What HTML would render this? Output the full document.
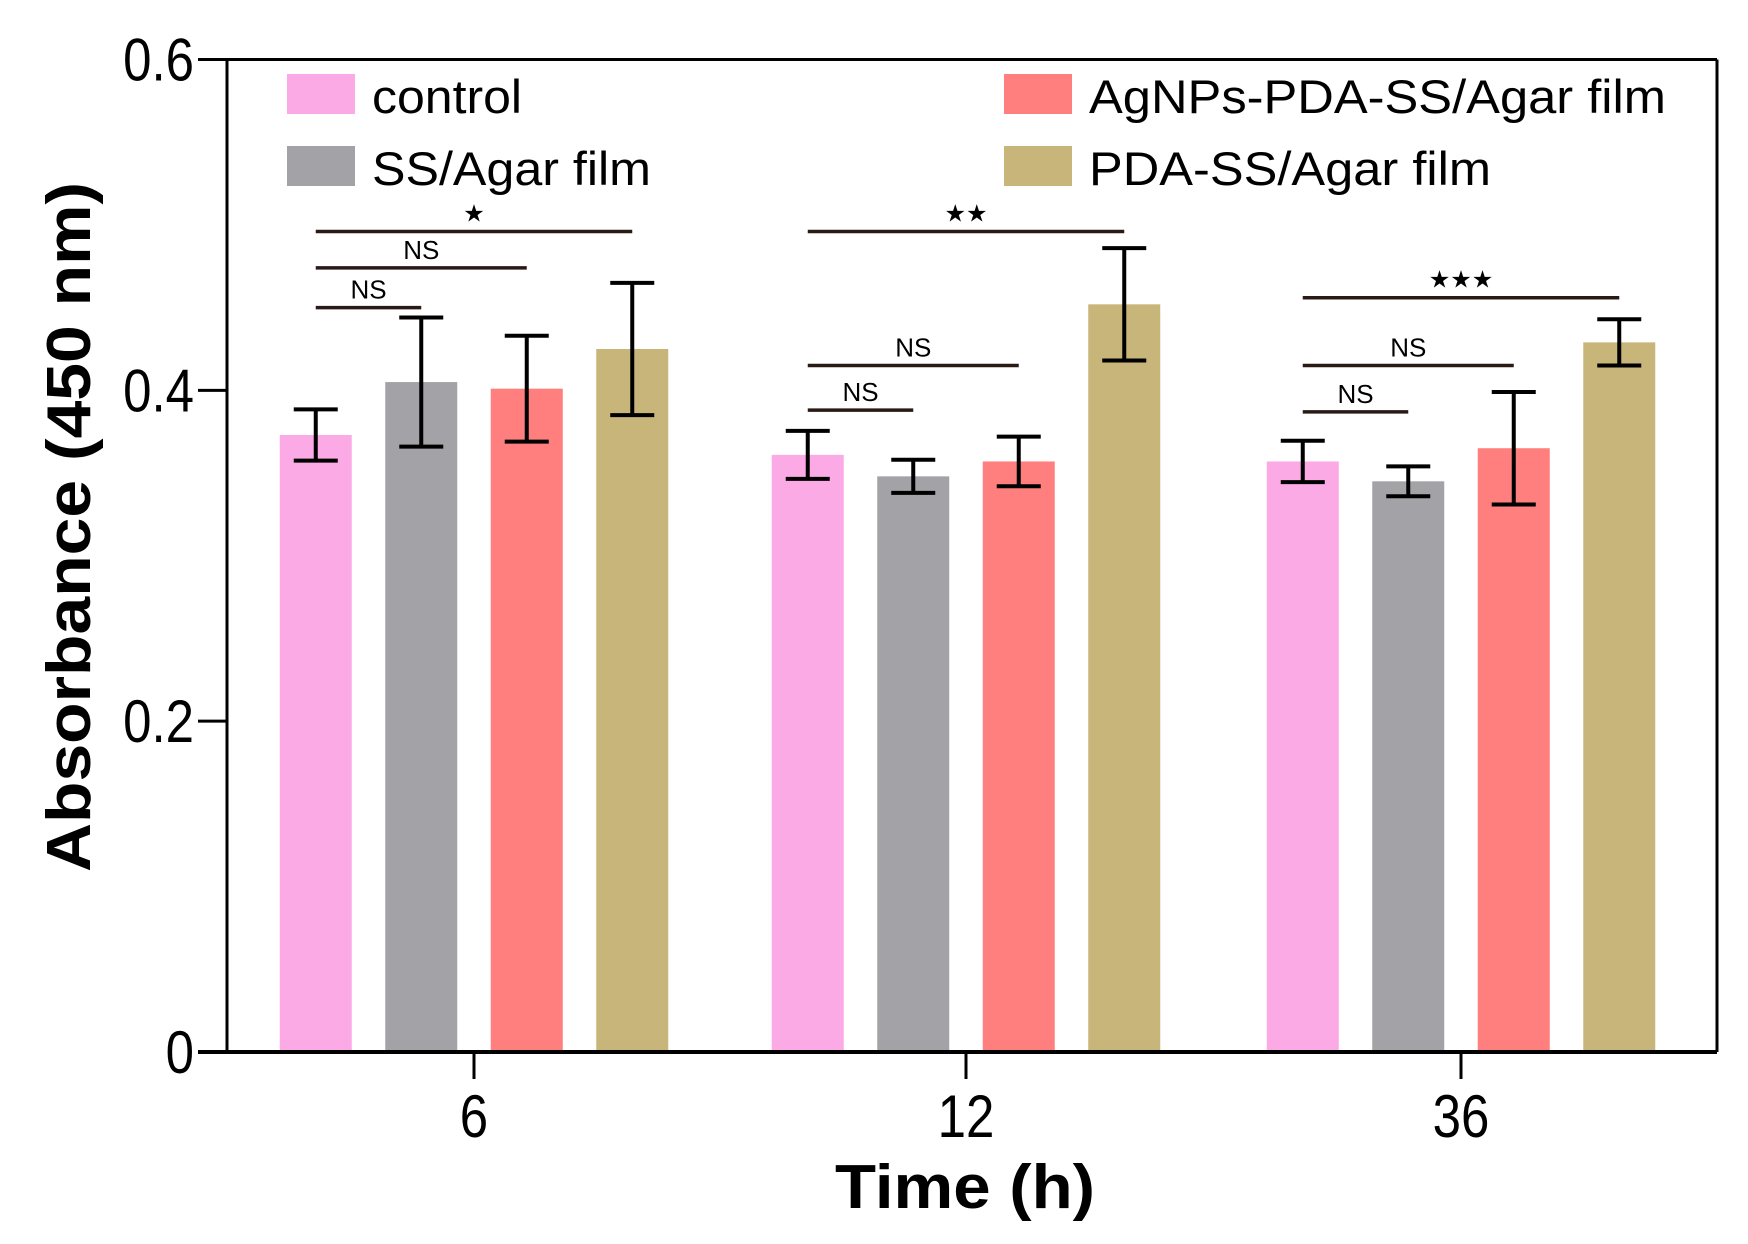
<!DOCTYPE html>
<html><head><meta charset="utf-8"><style>
html,body{margin:0;padding:0;background:#fff;}
svg{display:block;font-family:"Liberation Sans",Arial,sans-serif;}
</style></head><body>
<svg id="chart" width="1748" height="1244" viewBox="0 0 1748 1244" xmlns="http://www.w3.org/2000/svg">
<g id="plot"></g>
</svg>
<script>
const categories = ["6", "12", "36"];
const seriesNames = ["control", "SS/Agar film", "AgNPs-PDA-SS/Agar film", "PDA-SS/Agar film"];
const controlVals = [0.373, 0.361, 0.357];
const ssVals = [0.405, 0.348, 0.345];
const agnpsVals = [0.401, 0.357, 0.365];
const pdaVals = [0.425, 0.452, 0.429];
const controlErr = [0.0155, 0.0145, 0.0125];
const ssErr = [0.039, 0.010, 0.009];
const agnpsErr = [0.032, 0.015, 0.034];
const pdaErr = [0.040, 0.034, 0.014];
const yTicks = [0, 0.2, 0.4, 0.6];
const yTickLabels = ["0", "0.2", "0.4", "0.6"];
// significance brackets: group index, to-bar index, level (value units), label
const sigGroup = [0, 0, 0, 1, 1, 1, 2, 2, 2];
const sigTo = [3, 2, 1, 3, 2, 1, 3, 2, 1];
const sigLevel = [0.496, 0.474, 0.450, 0.496, 0.415, 0.388, 0.456, 0.415, 0.387];
const sigLabel = ["★", "NS", "NS", "★★", "NS", "NS", "★★★", "NS", "NS"];

const NS = "http://www.w3.org/2000/svg";
const g = document.getElementById("plot");
const X0 = 227, X1 = 1717, Y0 = 1052, Y1 = 59.5;
const colors = ["#fcaae6", "#a3a2a6", "#fe7f7d", "#c8b57a"];
const groupCenters = [474, 966, 1461];
const barStep = 105.5, barW = 72;
const vals = [controlVals, ssVals, agnpsVals, pdaVals];
const errs = [controlErr, ssErr, agnpsErr, pdaErr];
function y(v){ return Y0 - (v/0.6)*(Y0-Y1); }
function bx(gi, si){ return groupCenters[gi] + (si-1.5)*barStep; }
function mk(tag, attrs, parent){ const e=document.createElementNS(NS,tag); for(const k in attrs) e.setAttribute(k,attrs[k]); (parent||g).appendChild(e); return e; }

for(let gi=0; gi<categories.length; gi++){
  for(let si=0; si<4; si++){
    const cx = bx(gi, si), v = vals[si][gi], e = errs[si][gi];
    const r = mk("rect", {x: cx-barW/2, y: y(v), width: barW, height: Y0-y(v), fill: colors[si]});
    
    
    const eg = mk("g", {stroke:"#000", "stroke-width":4, fill:"none"});
    
    
    mk("line", {x1:cx, x2:cx, y1:y(v+e), y2:y(v-e)}, eg);
    mk("line", {x1:cx-22, x2:cx+22, y1:y(v+e), y2:y(v+e)}, eg);
    mk("line", {x1:cx-22, x2:cx+22, y1:y(v-e), y2:y(v-e)}, eg);
  }
}
for(let i=0; i<sigGroup.length; i++){
  const xa = bx(sigGroup[i],0), xb = bx(sigGroup[i],sigTo[i]), yy = y(sigLevel[i]);
  const l = mk("line", {x1:xa, x2:xb, y1:yy, y2:yy, stroke:"#2a1a16", "stroke-width":3.5});
  
  
  const isStar = sigLabel[i] !== "NS";
  const t = mk("text", {x:(xa+xb)/2, y: yy - (isStar?10:9), "text-anchor":"middle", "font-size": isStar?24:26, fill:"#000"});
  t.textContent = sigLabel[i];
  
  
}
const ax = mk("g", {stroke:"#000", fill:"none"});


mk("line", {x1:X0, x2:X0, y1:Y1, y2:Y0, "stroke-width":3}, ax);
mk("line", {x1:X0, x2:X1, y1:Y1, y2:Y1, "stroke-width":3}, ax);
mk("line", {x1:X1, x2:X1, y1:Y1, y2:Y0, "stroke-width":3}, ax);
mk("line", {x1:198, x2:X1, y1:Y0, y2:Y0, "stroke-width":4}, ax);
for(let i=0;i<yTicks.length;i++){
  const yy = y(yTicks[i]);
  mk("line", {x1:198, x2:X0, y1:yy, y2:yy, stroke:"#000", "stroke-width":3});
  const t = mk("text", {x:194, y:yy+21, "text-anchor":"end", "font-size":60, fill:"#000", transform:`translate(194 0) scale(0.85 1) translate(-194 0)`});
  t.textContent = yTickLabels[i];
  
  
}
for(let gi=0; gi<categories.length; gi++){
  const cx = groupCenters[gi];
  mk("line", {x1:cx, x2:cx, y1:Y0, y2:Y0+27, stroke:"#000", "stroke-width":3});
  const t = mk("text", {x:cx, y:1137, "text-anchor":"middle", "font-size":60, fill:"#000", transform:`translate(${cx} 0) scale(0.85 1) translate(${-cx} 0)`});
  t.textContent = categories[gi];
  
  
}
const xt = mk("text", {x:965, y:1208, "text-anchor":"middle", "font-size":62, "font-weight":"bold", fill:"#000", textLength:260, lengthAdjust:"spacingAndGlyphs"});
xt.textContent = "Time (h)";


const yt = mk("text", {x:0, y:0, "text-anchor":"middle", "font-size":62, "font-weight":"bold", fill:"#000", transform:"translate(90 527) rotate(-90)", textLength:690, lengthAdjust:"spacingAndGlyphs"});
yt.textContent = "Absorbance (450 nm)";


const legPos = [[287,74],[287,146],[1004,74],[1004,146]];
const legLen = [150, 279, 577, 402];
for(let si=0; si<4; si++){
  const [lx, ly] = legPos[si];
  const lg = mk("g", {});
  
  
  mk("rect", {x:lx, y:ly, width:68, height:40, fill:colors[si]}, lg);
  const t = mk("text", {x:lx+85, y:ly+39, "font-size":47, fill:"#000", textLength:legLen[si], lengthAdjust:"spacingAndGlyphs"}, lg);
  t.textContent = seriesNames[si];
}
</script>
</body></html>
